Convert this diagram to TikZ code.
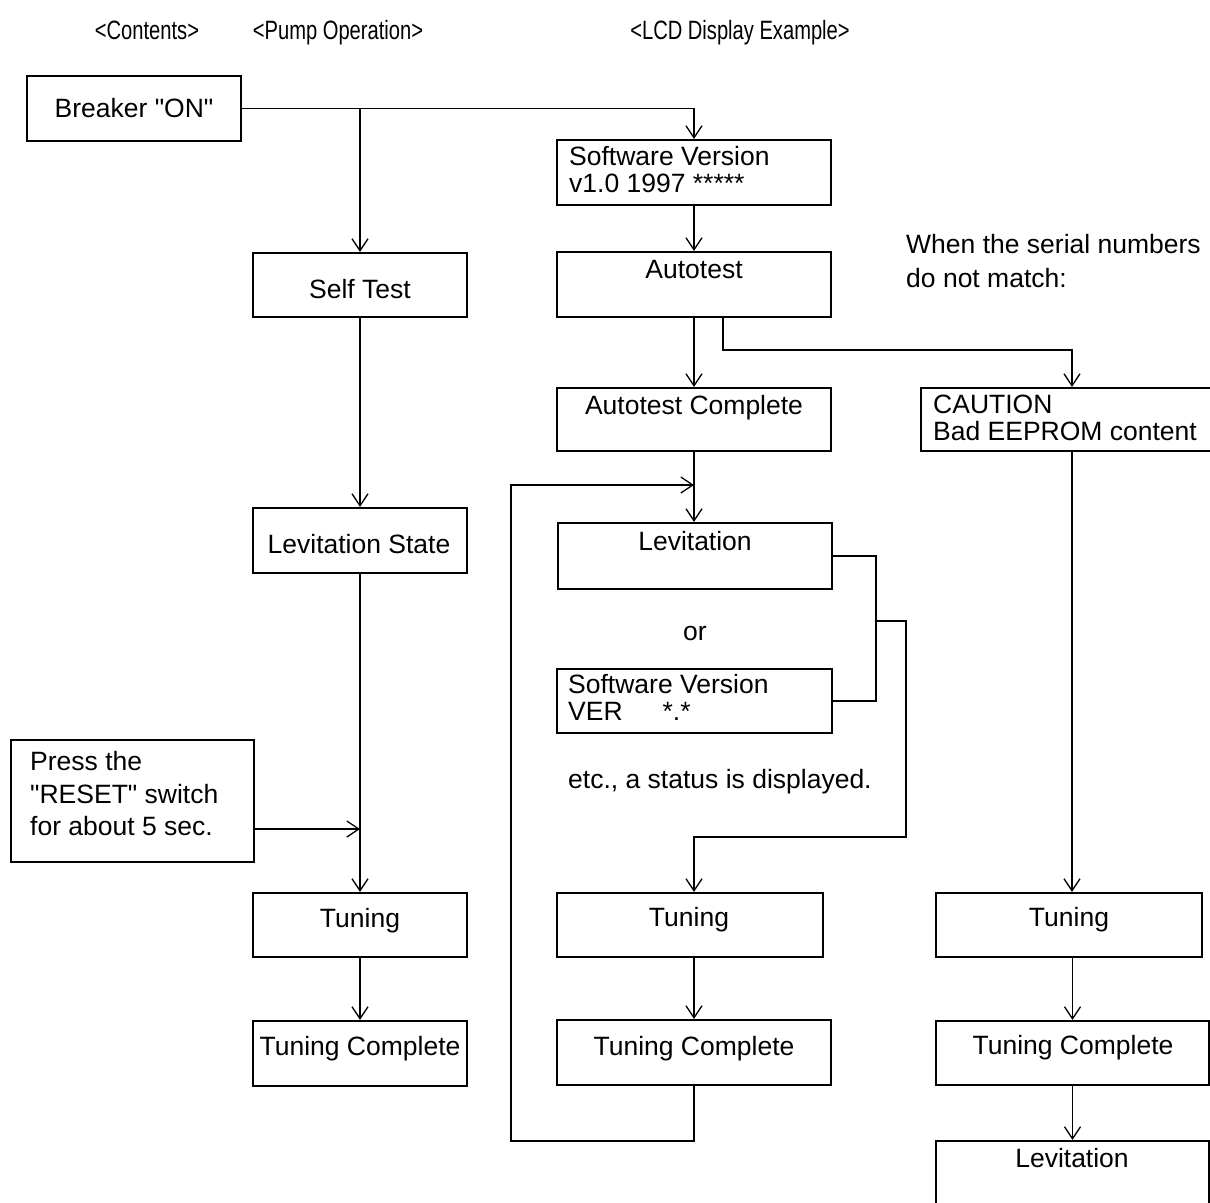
\documentclass[tikz,border=0pt]{standalone}
\usepackage{fontspec}
\setmainfont{Liberation Sans}[Ligatures=TeXOff]
\usetikzlibrary{arrows.meta,calc}
\tikzset{
  bx/.style={draw, line width=2.2pt, inner sep=0pt, rectangle},
  con/.style={line width=1.3pt},
  arr/.style={con, -{Straight Barb[length=12pt,width=16pt,line width=1.3pt]}},
  txt/.style={anchor=base, inner sep=0pt, font=\fontsize{26.5}{30.5}\selectfont},
  ltxt/.style={anchor=base west, inner sep=0pt, font=\fontsize{26.5}{30.5}\selectfont},
  hdr/.style={anchor=base, inner sep=0pt, font=\fontsize{26.5}{30.5}\selectfont},
}
\begin{document}
\begin{tikzpicture}[x=1pt,y=-1pt]
\useasboundingbox (0,0) rectangle (1210,1202);
\clip (0,0) rectangle (1210,1202);
% headers
\node[hdr] (h1) at (147,39) {\scalebox{0.76}[1]{<Contents>}};
\node[hdr] (h2) at (338,39) {\scalebox{0.76}[1]{<Pump Operation>}};
\node[hdr] (h3) at (740,39) {\scalebox{0.76}[1]{<LCD Display Example>}};
% boxes
\node[bx, minimum width=214pt, minimum height=65pt] (brk) at (134,108.5) {};
\node[bx, minimum width=274pt, minimum height=65pt] (sv1) at (694,172.5) {};
\node[bx, minimum width=274pt, minimum height=65pt] (at) at (694,284.5) {};
\node[bx, minimum width=274pt, minimum height=63pt] (atc) at (694,419.5) {};
\node[bx, minimum width=302pt, minimum height=63pt] (cau) at (1072,419.5) {};
\node[bx, minimum width=274pt, minimum height=66pt] (lev) at (695,556) {};
\node[bx, minimum width=275pt, minimum height=64pt] (svv) at (694.5,701) {};
\node[bx, minimum width=266pt, minimum height=64pt] (tn2) at (690,925) {};
\node[bx, minimum width=274pt, minimum height=65pt] (tc2) at (694,1052.5) {};
\node[bx, minimum width=214pt, minimum height=64pt] (st) at (360,285) {};
\node[bx, minimum width=214pt, minimum height=65pt] (ls) at (360,540.5) {};
\node[bx, minimum width=243pt, minimum height=122pt] (press) at (132.5,801) {};
\node[bx, minimum width=214pt, minimum height=64pt] (tn1) at (360,925) {};
\node[bx, minimum width=214pt, minimum height=65pt] (tc1) at (360,1053.5) {};
\node[bx, minimum width=266pt, minimum height=64pt] (tn3) at (1069,925) {};
\node[bx, minimum width=273pt, minimum height=64pt] (tc3) at (1072.5,1053) {};
\node[bx, minimum width=273pt, minimum height=89pt] (lev3) at (1072.5,1185.5) {};
% box texts
\node[txt] (t-brk) at (134,117) {Breaker "ON"};
\node[ltxt] (t-sv1a) at (569,165) {Software Version};
\node[ltxt] (t-sv1b) at (569,192) {v1.0 1997 *****};
\node[txt] (t-at) at (694,278) {Autotest};
\node[txt] (t-atc) at (694,414) {Autotest Complete};
\node[ltxt] (t-caua) at (933,413) {CAUTION};
\node[ltxt] (t-caub) at (933,440) {Bad EEPROM content};
\node[txt] (t-lev) at (695,550) {Levitation};
\node[ltxt] (t-svva) at (568,693) {Software Version};
\node[ltxt] (t-svvb) at (568,720) {VER\hspace{40pt}*.*};
\node[txt] (t-tn2) at (689,926) {Tuning};
\node[txt] (t-tc2) at (694,1055) {Tuning Complete};
\node[txt] (t-st) at (360,298) {Self Test};
\node[txt] (t-ls) at (359,553) {Levitation State};
\node[ltxt] (t-pa) at (30,770) {Press the};
\node[ltxt] (t-pb) at (30,803) {"RESET" switch};
\node[ltxt] (t-pc) at (30,835) {for about 5 sec.};
\node[txt] (t-tn1) at (360,927) {Tuning};
\node[txt] (t-tc1) at (360,1055) {Tuning Complete};
\node[txt] (t-tn3) at (1069,926) {Tuning};
\node[txt] (t-tc3) at (1073,1054) {Tuning Complete};
\node[txt] (t-lev3) at (1072,1167) {Levitation};
% free texts
\node[txt] (or) at (695,640) {or};
\node[ltxt] (etc) at (568,788) {etc., a status is displayed.};
\node[ltxt] (w1) at (906,253) {When the serial numbers};
\node[ltxt] (w2) at (906,287) {do not match:};
% connectors
\draw[arr] (brk.east) -- (brk.east -| sv1.north) -- (sv1.north);
\draw[arr] (brk.east -| st.north) -- (st.north);
\draw[arr] (sv1.south) -- (at.north);
\draw[arr] (at.south) -- (atc.north);
\coordinate (j1) at (723,350);
\draw[arr] (at.south -| j1) -- (j1) -| (cau.north);
\draw[arr] (atc.south) -- (atc.south |- lev.north);
\coordinate (lb) at (511,1141);
\coordinate (lt) at (511,485);
\draw[arr] (tc2.south) |- (lb) -- (lt) -- (lt -| atc.south);
\coordinate (b1) at (876,557);
\draw[con] (lev.east) -| (b1 |- svv.east) -- (svv.east);
\coordinate (b2) at (906,621);
\coordinate (b3) at (906,837);
\draw[arr] (b1 |- b2) -- (b2) -- (b3) -- (b3 -| tc2.north) -- (tc2.north |- tn2.north);
\draw[arr] (st.south) -- (ls.north);
\draw[arr] (ls.south) -- (tn1.north);
\coordinate (pa) at (254,829);
\draw[arr] (pa) -- (pa -| ls.south);
\draw[arr] (tn1.south) -- (tc1.north);
\draw[arr] (tn2.south -| tc2.north) -- (tc2.north);
\draw[arr] (cau.south) -- (cau.south |- tn3.north);
\draw[arr] (tn3.south -| tc3.north) -- (tc3.north);
\draw[arr] (tc3.south) -- (lev3.north);
\end{tikzpicture}
\end{document}
